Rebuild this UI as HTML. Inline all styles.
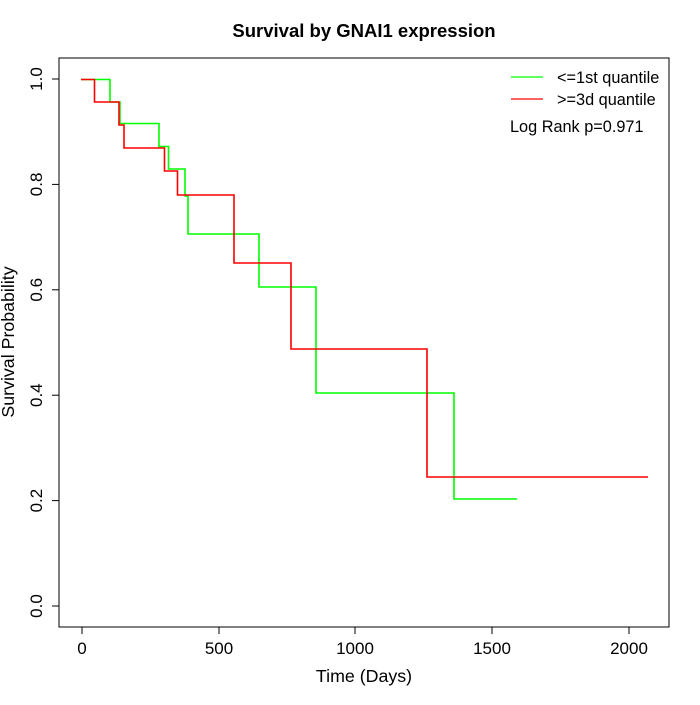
<!DOCTYPE html><html><head><style>body{margin:0;background:#fff}</style></head><body>
<svg width="700" height="700" xmlns="http://www.w3.org/2000/svg" font-family="Liberation Sans, sans-serif">
<rect x="59" y="58" width="610" height="569" fill="none" stroke="#000"/>
<text x="364" y="37" text-anchor="middle" font-size="18.5" font-weight="bold">Survival by GNAI1 expression</text>
<g stroke="#000" fill="none">
<line x1="82" y1="627" x2="629" y2="627"/>
<line x1="82" y1="627" x2="82" y2="634"/><line x1="219" y1="627" x2="219" y2="634"/><line x1="355" y1="627" x2="355" y2="634"/><line x1="492" y1="627" x2="492" y2="634"/><line x1="629" y1="627" x2="629" y2="634"/>
<line x1="59" y1="79" x2="59" y2="606"/>
<line x1="59" y1="79" x2="52" y2="79"/><line x1="59" y1="184.4" x2="52" y2="184.4"/><line x1="59" y1="289.8" x2="52" y2="289.8"/><line x1="59" y1="395.2" x2="52" y2="395.2"/><line x1="59" y1="500.6" x2="52" y2="500.6"/><line x1="59" y1="606" x2="52" y2="606"/>
</g>
<g font-size="17" text-anchor="middle">
<text x="82" y="654">0</text><text x="219" y="654">500</text><text x="355" y="654">1000</text><text x="492" y="654">1500</text><text x="629" y="654">2000</text>
<text x="364" y="682" font-size="17.8">Time (Days)</text>
<g transform="rotate(-90)"><text x="-79" y="42">1.0</text><text x="-184.4" y="42">0.8</text><text x="-289.8" y="42">0.6</text><text x="-395.2" y="42">0.4</text><text x="-500.6" y="42">0.2</text><text x="-606" y="42">0.0</text>
<text x="-342" y="14" font-size="17.8">Survival Probability</text></g>
</g>
<polyline fill="none" stroke="#00ff00" stroke-width="1.6" points="81,79.5 110,79.5 110,102 120,102 120,123.5 159,123.5 159,146.5 168.5,146.5 168.5,169 185,169 185,196 188,196 188,234 259,234 259,287 316,287 316,393 454,393 454,499 517,499"/>
<polyline fill="none" stroke="#ff0000" stroke-width="1.6" points="81,79.5 94.5,79.5 94.5,102 119,102 119,125 124,125 124,148 164.5,148 164.5,171 177.5,171 177.5,195 234,195 234,263 291,263 291,349 427,349 427,477 648,477"/>
<line x1="511" y1="77" x2="543" y2="77" stroke="#00ff00" stroke-width="1.3"/>
<line x1="511" y1="99" x2="543" y2="99" stroke="#ff0000" stroke-width="1.3"/>
<g font-size="16.3"><text x="557" y="83">&lt;=1st quantile</text><text x="557" y="105">&gt;=3d quantile</text><text x="510" y="132">Log Rank p=0.971</text></g>
</svg></body></html>
